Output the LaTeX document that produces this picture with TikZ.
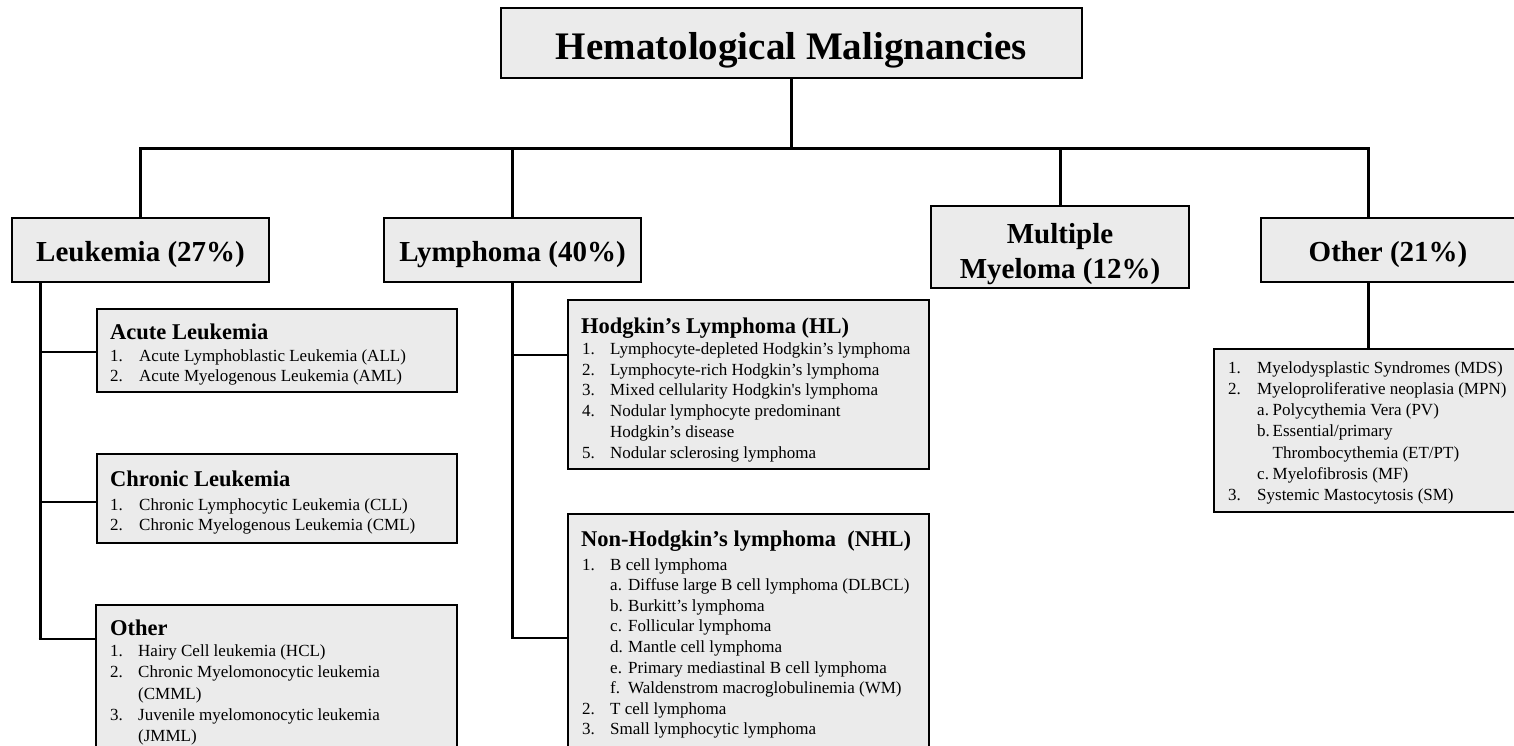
\documentclass[tikz,border=0pt]{standalone}
\usepackage{fontspec}
\setmainfont{Liberation Serif}
\usetikzlibrary{calc}
\definecolor{boxgray}{RGB}{235,235,235}
\newcommand{\subA}[1]{\makebox[18pt][l]{#1}}
\newcommand{\subB}[1]{\makebox[15.5pt][l]{#1}}
\tikzset{
  box/.style={draw=black, line width=2pt, fill=boxgray, inner sep=0pt, outer sep=0pt, anchor=north west},
  mainbox/.style={box, font=\fontsize{29}{33.3}\selectfont\bfseries},
  conn/.style={draw=black, line width=3pt, line join=miter},
  branch/.style={draw=black, line width=1.6pt},
  head/.style={anchor=base west, inner sep=0pt, font=\fontsize{22.5}{26}\selectfont\bfseries},
  lst/.style={anchor=base west, inner sep=0pt, font=\fontsize{17}{#1}\selectfont},
  lst/.default=20.8
}
\begin{document}
\begin{tikzpicture}[x=1pt,y=-1pt]
\useasboundingbox (0,0) rectangle (1514,745);
\clip (0,0) rectangle (1514,745);

% main boxes
\node[mainbox, font=\fontsize{39}{44}\selectfont\bfseries, minimum width=581, minimum height=70, text height=32, text depth=0] (title) at (501,8) {Hematological Malignancies};
\node[mainbox, minimum width=257, minimum height=64, text height=22, text depth=0] (leuk) at (12,218) {Leukemia (27\%)};
\node[mainbox, minimum width=257, minimum height=64, text height=22, text depth=0] (lymph) at (384,218) {Lymphoma (40\%)};
\node[mainbox, font=\fontsize{29}{34.5}\selectfont\bfseries, minimum width=258, minimum height=82, text height=0pt, text depth=7pt] (mm) at (931,206) {\begin{tabular}[t]{@{}c@{}}Multiple\\Myeloma (12\%)\end{tabular}};
\node[mainbox, minimum width=254, minimum height=64, text height=22, text depth=0] (other) at (1261,218) {Other (21\%)};

% bus
\coordinate (busy) at (0,148);
\coordinate (odrop) at (1368,0);
\draw[conn] (title.south) -- (title.south |- busy);
\draw[conn] (leuk.north) -- (leuk.north |- busy) -- (odrop |- busy) -- (odrop |- other.north);
\draw[conn] (lymph.north) -- (lymph.north |- busy);
\draw[conn] (mm.north) -- (mm.north |- busy);

% leukemia sub boxes
\node[box, minimum width=360, minimum height=83] (acute) at (97,309) {};
\node[head] (acuteH) at (110,339) {Acute Leukemia};
\node[lst] (acuteL) at (110,361) {\begin{tabular}[t]{@{}p{29pt}@{}l@{}}1. & Acute Lymphoblastic Leukemia (ALL)\\2. & Acute Myelogenous Leukemia (AML)\end{tabular}};

\node[box, minimum width=360, minimum height=89] (chron) at (97,454) {};
\node[head] (chronH) at (110,486.5) {Chronic Leukemia};
\node[lst] (chronL) at (110,510) {\begin{tabular}[t]{@{}p{29pt}@{}l@{}}1. & Chronic Lymphocytic Leukemia (CLL)\\2. & Chronic Myelogenous Leukemia (CML)\end{tabular}};

\node[box, minimum width=361, minimum height=160] (otherL) at (96,605) {};
\node[head] (otherLH) at (110,635) {Other};
\node[lst=21.2] (otherLL) at (110,656.7) {\begin{tabular}[t]{@{}p{28pt}@{}l@{}}1. & Hairy Cell leukemia (HCL)\\2. & Chronic Myelomonocytic leukemia\\ & (CMML)\\3. & Juvenile myelomonocytic leukemia\\ & (JMML)\end{tabular}};

% leukemia connectors
\coordinate (lx) at (40,0);
\coordinate (aj) at ($(acute.north west)+(0,43)$);
\coordinate (cj) at ($(chron.north west)+(0,48)$);
\coordinate (oj) at ($(otherL.north west)+(0,34)$);
\draw[conn] (lx |- leuk.south) -- (lx |- oj);
\draw[branch] (lx |- aj) -- (aj);
\draw[branch] (lx |- cj) -- (cj);
\draw[branch] ($(lx |- oj)+(-1.5,0)$) -- (oj);

% lymphoma sub boxes
\node[box, minimum width=361, minimum height=169] (hl) at (568,300) {};
\node[head] (hlH) at (581,333) {Hodgkin’s Lymphoma (HL)};
\node[lst] (hlL) at (582,354.3) {\begin{tabular}[t]{@{}p{28pt}@{}l@{}}1. & Lymphocyte-depleted Hodgkin’s lymphoma\\2. & Lymphocyte-rich Hodgkin’s lymphoma\\3. & Mixed cellularity Hodgkin\textquotesingle s lymphoma\\4. & Nodular lymphocyte predominant\\ & Hodgkin’s disease\\5. & Nodular sclerosing lymphoma\end{tabular}};

\node[box, minimum width=361, minimum height=250] (nhl) at (568,514) {};
\node[head] (nhlH) at (581,546.7) {Non-Hodgkin’s lymphoma\ \ (NHL)};
\node[lst=20.6] (nhlL) at (582,570) {\begin{tabular}[t]{@{}p{28pt}@{}l@{}}1. & B cell lymphoma\\
 & \subA{a.}Diffuse large B cell lymphoma (DLBCL)\\
 & \subA{b.}Burkitt’s lymphoma\\
 & \subA{c.}Follicular lymphoma\\
 & \subA{d.}Mantle cell lymphoma\\
 & \subA{e.}Primary mediastinal B cell lymphoma\\
 & \subA{f.}Waldenstrom macroglobulinemia (WM)\\
2. & T cell lymphoma\\
3. & Small lymphocytic lymphoma\end{tabular}};

\coordinate (hj) at ($(hl.north west)+(0,55)$);
\coordinate (nj) at ($(nhl.north west)+(0,124)$);
\draw[conn] (lymph.south) -- (lymph.south |- nj);
\draw[branch] (lymph.south |- hj) -- (hj);
\draw[branch] ($(lymph.south |- nj)+(-1.5,0)$) -- (nj);

% other sub box
\node[box, minimum width=310, minimum height=163] (rbox) at (1214,349) {};
\node[lst=21.3] (rboxL) at (1228,373) {\begin{tabular}[t]{@{}p{29pt}@{}l@{}}1. & Myelodysplastic Syndromes (MDS)\\
2. & Myeloproliferative neoplasia (MPN)\\
 & \subB{a.}Polycythemia Vera (PV)\\
 & \subB{b.}Essential/primary\\
 & \hspace*{15.5pt}Thrombocythemia (ET/PT)\\
 & \subB{c.}Myelofibrosis (MF)\\
3. & Systemic Mastocytosis (SM)\end{tabular}};
\draw[conn] (odrop |- other.south) -- (odrop |- rbox.north);
\end{tikzpicture}
\end{document}
